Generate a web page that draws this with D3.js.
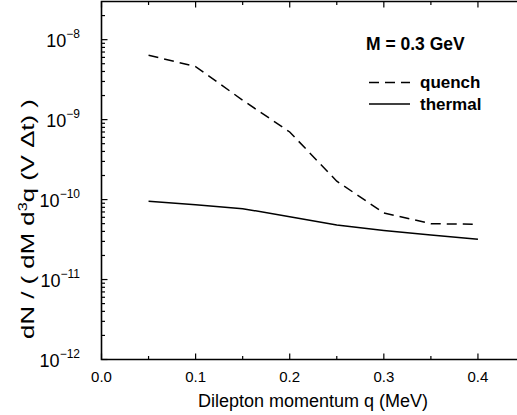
<!DOCTYPE html>
<html><head><meta charset="utf-8">
<script src="https://cdn.jsdelivr.net/npm/d3@7"></script>
<style>body{margin:0;background:#fff}svg{display:block;font-family:Arial,"Liberation Sans",sans-serif}</style>
</head><body><svg id="c" width="517" height="415"></svg>
<script>
const qValues = [0.05, 0.10, 0.15, 0.20, 0.25, 0.30, 0.35, 0.40];
const quench  = [6.4e-9, 4.6e-9, 1.75e-9, 7.0e-10, 1.7e-10, 6.8e-11, 5.0e-11, 4.9e-11];
const thermal = [9.5e-11, 8.6e-11, 7.7e-11, 6.1e-11, 4.8e-11, 4.1e-11, 3.6e-11, 3.2e-11];
const xTicks = [0.0, 0.1, 0.2, 0.3, 0.4];
const yExponents = [-12, -11, -10, -9, -8];
const legendTitle = "M = 0.3 GeV";
const seriesNames = ["quench", "thermal"];

const svg = d3.select("#c");
const L = 101.5, R = 525, T = 1.5, B = 359.5;
const x = d3.scaleLinear().domain([0, 0.45]).range([L, R]);
const y = d3.scaleLog().domain([1e-12, 3e-8]).range([B, T]);

// frame
const ax = svg.append("g").attr("stroke", "#000").attr("stroke-width", 1.6).attr("fill", "none");
ax.append("path").attr("d", `M${R},${T}H${L}V${B}H${R}`);

// x ticks (bottom and top, inward)
const xMinor = d3.range(0.05, 0.45, 0.1);
xTicks.forEach(v => {
  ax.append("line").attr("x1", x(v)).attr("x2", x(v)).attr("y1", B).attr("y2", B - 6).attr("stroke-width", 1.2);
  ax.append("line").attr("x1", x(v)).attr("x2", x(v)).attr("y1", T).attr("y2", T + 6).attr("stroke-width", 1.2);
});
xMinor.forEach(v => {
  ax.append("line").attr("x1", x(v)).attr("x2", x(v)).attr("y1", B).attr("y2", B - 3.5).attr("stroke-width", 1.2);
  ax.append("line").attr("x1", x(v)).attr("x2", x(v)).attr("y1", T).attr("y2", T + 3.5).attr("stroke-width", 1.2);
});
// y ticks (left, inward)
yExponents.forEach(e => {
  const v = Math.pow(10, e);
  ax.append("line").attr("x1", L).attr("x2", L + 6).attr("y1", y(v)).attr("y2", y(v)).attr("stroke-width", 1.2);
  for (let k = 2; k <= 9; k++) {
    const m = k * v;
    if (m > 3e-8) break;
    ax.append("line").attr("x1", L).attr("x2", L + 3.5).attr("y1", y(m)).attr("y2", y(m)).attr("stroke-width", 1.2);
  }
});

// tick labels
svg.append("g").selectAll("text").data(xTicks).join("text")
  .attr("x", d => x(d)).attr("y", 382).attr("text-anchor", "middle")
  .attr("font-size", 15).text(d => d.toFixed(1));
const yl = svg.append("g").selectAll("text").data(yExponents).join("text")
  .attr("x", 80).attr("y", d => y(Math.pow(10, d)) + 7).attr("text-anchor", "end").attr("font-size", 18);
yl.append("tspan").text("10");
yl.append("tspan").attr("font-size", 12).attr("dy", -9).text(d => "\u2212" + Math.abs(d));

// axis titles
svg.append("text").attr("x", 313).attr("y", 407).attr("text-anchor", "middle").attr("font-size", 18)
  .text("Dilepton momentum q (MeV)");
const yt = svg.append("text").attr("text-anchor", "middle").attr("font-size", 19);
yt.append("tspan").text("dN / ( dM d");
yt.append("tspan").attr("font-size", 12).attr("dy", -7).text("3");
yt.append("tspan").attr("dy", 7).text("q (V \u0394t) )");
const ytLen = yt.node().getComputedTextLength() || 180;
yt.attr("transform", `translate(33.5,219) rotate(-90) scale(${240 / ytLen},1)`);

// lines
const line = d3.line().x((d, i) => x(qValues[i])).y(d => y(d));
svg.append("path").datum(quench).attr("d", line).attr("fill", "none").attr("stroke", "#000")
  .attr("stroke-width", 1.5).attr("stroke-dasharray", "10,6");
svg.append("path").datum(thermal).attr("d", line).attr("fill", "none").attr("stroke", "#000")
  .attr("stroke-width", 1.5);

// legend
svg.append("text").attr("x", 366).attr("y", 50).attr("font-size", 17.5).attr("font-weight", "bold").text(legendTitle);
svg.append("line").attr("x1", 369).attr("x2", 410).attr("y1", 82.5).attr("y2", 82.5).attr("stroke", "#000")
  .attr("stroke-width", 1.5).attr("stroke-dasharray", "10,6");
svg.append("line").attr("x1", 369).attr("x2", 410).attr("y1", 104).attr("y2", 104).attr("stroke", "#000")
  .attr("stroke-width", 1.5);
svg.append("text").attr("x", 420).attr("y", 88).attr("font-size", 17).attr("font-weight", "bold").text(seriesNames[0]);
svg.append("text").attr("x", 420).attr("y", 110).attr("font-size", 17).attr("font-weight", "bold").text(seriesNames[1]);
</script></body></html>
